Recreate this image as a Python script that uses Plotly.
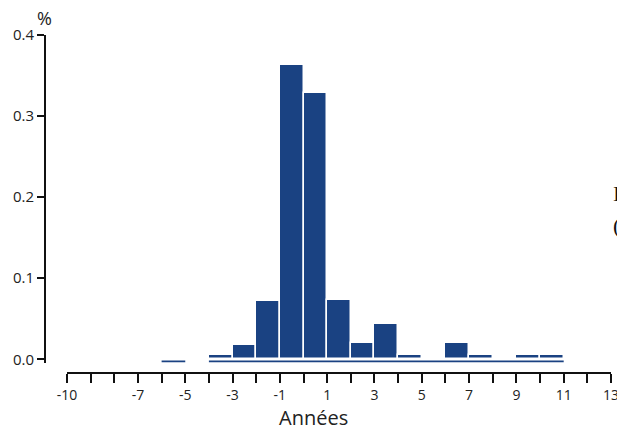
import plotly.graph_objects as go

# Data: histogram bins (left edge, width 1 year) and shares in %
bin_left = [-6, -5, -4, -3, -2, -1, 0, 1, 2, 3, 4, 5, 6, 7, 8, 9, 10]
values = [0.0, None, 0.005, 0.017, 0.072, 0.363, 0.328, 0.073, 0.020, 0.044,
          0.005, 0.0, 0.020, 0.005, 0.0, 0.005, 0.005]
x_ticks = list(range(-10, 14))
x_labels = [-10, -7, -5, -3, -1, 1, 3, 5, 7, 9, 11, 13]
y_ticks = [0.0, 0.1, 0.2, 0.3, 0.4]

W, H = 617, 430
BLUE = "#1a4282"
FONT = "Open Sans"

fig = go.Figure()

bx = [b + 0.5 for b, v in zip(bin_left, values) if v]
by = [v for v in values if v]
fig.add_trace(go.Bar(x=bx, y=by, width=1.0, marker=dict(color=BLUE, line=dict(color="white", width=1.5)),
                     showlegend=False, hoverinfo="x+y"))

# baseline segments under contiguous runs of bins containing data
seg_x, seg_y = [], []
run = None
for b, v in zip(bin_left + [None], values + [None]):
    if v is not None and run is None:
        run = [b, b + 1]
    elif v is not None:
        run[1] = b + 1
    else:
        if run is not None:
            seg_x += [run[0], run[1], None]
            seg_y += [-0.0028, -0.0028, None]
        run = None
fig.add_trace(go.Scatter(x=seg_x, y=seg_y, mode="lines", line=dict(color=BLUE, width=2),
                         showlegend=False, hoverinfo="skip"))

# the last tick label sits on the page edge; plotly drops it, so it is written as an annotation
edge_label = x_labels[-1]
shown = [t for t in x_labels if t != edge_label]

fig.update_layout(
    width=W, height=H,
    margin=dict(l=0, r=0, t=0, b=0, autoexpand=False),
    paper_bgcolor="white", plot_bgcolor="white",
    font=dict(family=FONT, size=14, color="#222"),
    bargap=0,
    xaxis=dict(
        domain=[67 / W, 611 / W], range=[-10, 13],
        anchor="free", position=1 - 373 / H, automargin=False,
        showline=True, linecolor="#111", linewidth=2,
        ticks="outside", ticklen=9, tickwidth=2, tickcolor="#111",
        tickvals=x_ticks,
        ticktext=[str(t) if t in shown else "" for t in x_ticks],
        tickfont=dict(size=14, color="#222"),
        showgrid=False, zeroline=False,
    ),
    yaxis=dict(
        domain=[1 - 362.5 / H, 1 - 35 / H], range=[-0.004, 0.4],
        anchor="free", position=45 / W, automargin=False,
        showline=True, linecolor="#111", linewidth=2,
        ticks="outside", ticklen=7, tickwidth=1.5, tickcolor="#111",
        tickvals=y_ticks, ticktext=[f"{t:.1f}" for t in y_ticks],
        tickfont=dict(size=15, color="#222"),
        showgrid=False, zeroline=False,
    ),
    annotations=[
        dict(text=str(edge_label), xref="x", yref="paper", x=edge_label, y=1 - 394 / H,
             showarrow=False, font=dict(size=14, color="#222"), xanchor="center", yanchor="middle"),
        dict(text="Années", xref="paper", yref="paper", x=313 / W, y=1 - 417 / H,
             showarrow=False, font=dict(size=20, color="#222"), xanchor="center", yanchor="middle"),
        dict(text="%", xref="paper", yref="paper", x=45 / W, y=1 - 18 / H,
             showarrow=False, font=dict(size=18, color="#222"), xanchor="center", yanchor="middle"),
        dict(text="I", xref="paper", yref="paper", x=611 / W, y=1 - 193 / H,
             showarrow=False, font=dict(size=22, color="#111", family="Liberation Serif"),
             xanchor="left", yanchor="middle"),
        dict(text="(", xref="paper", yref="paper", x=611 / W, y=1 - 225 / H,
             showarrow=False, font=dict(size=22, color="#111", family="Liberation Serif"),
             xanchor="left", yanchor="middle"),
    ],
)

fig.write_html("out.html", config={"displayModeBar": False},
               post_script="document.body.style.margin='0';document.body.style.overflow='hidden';")
